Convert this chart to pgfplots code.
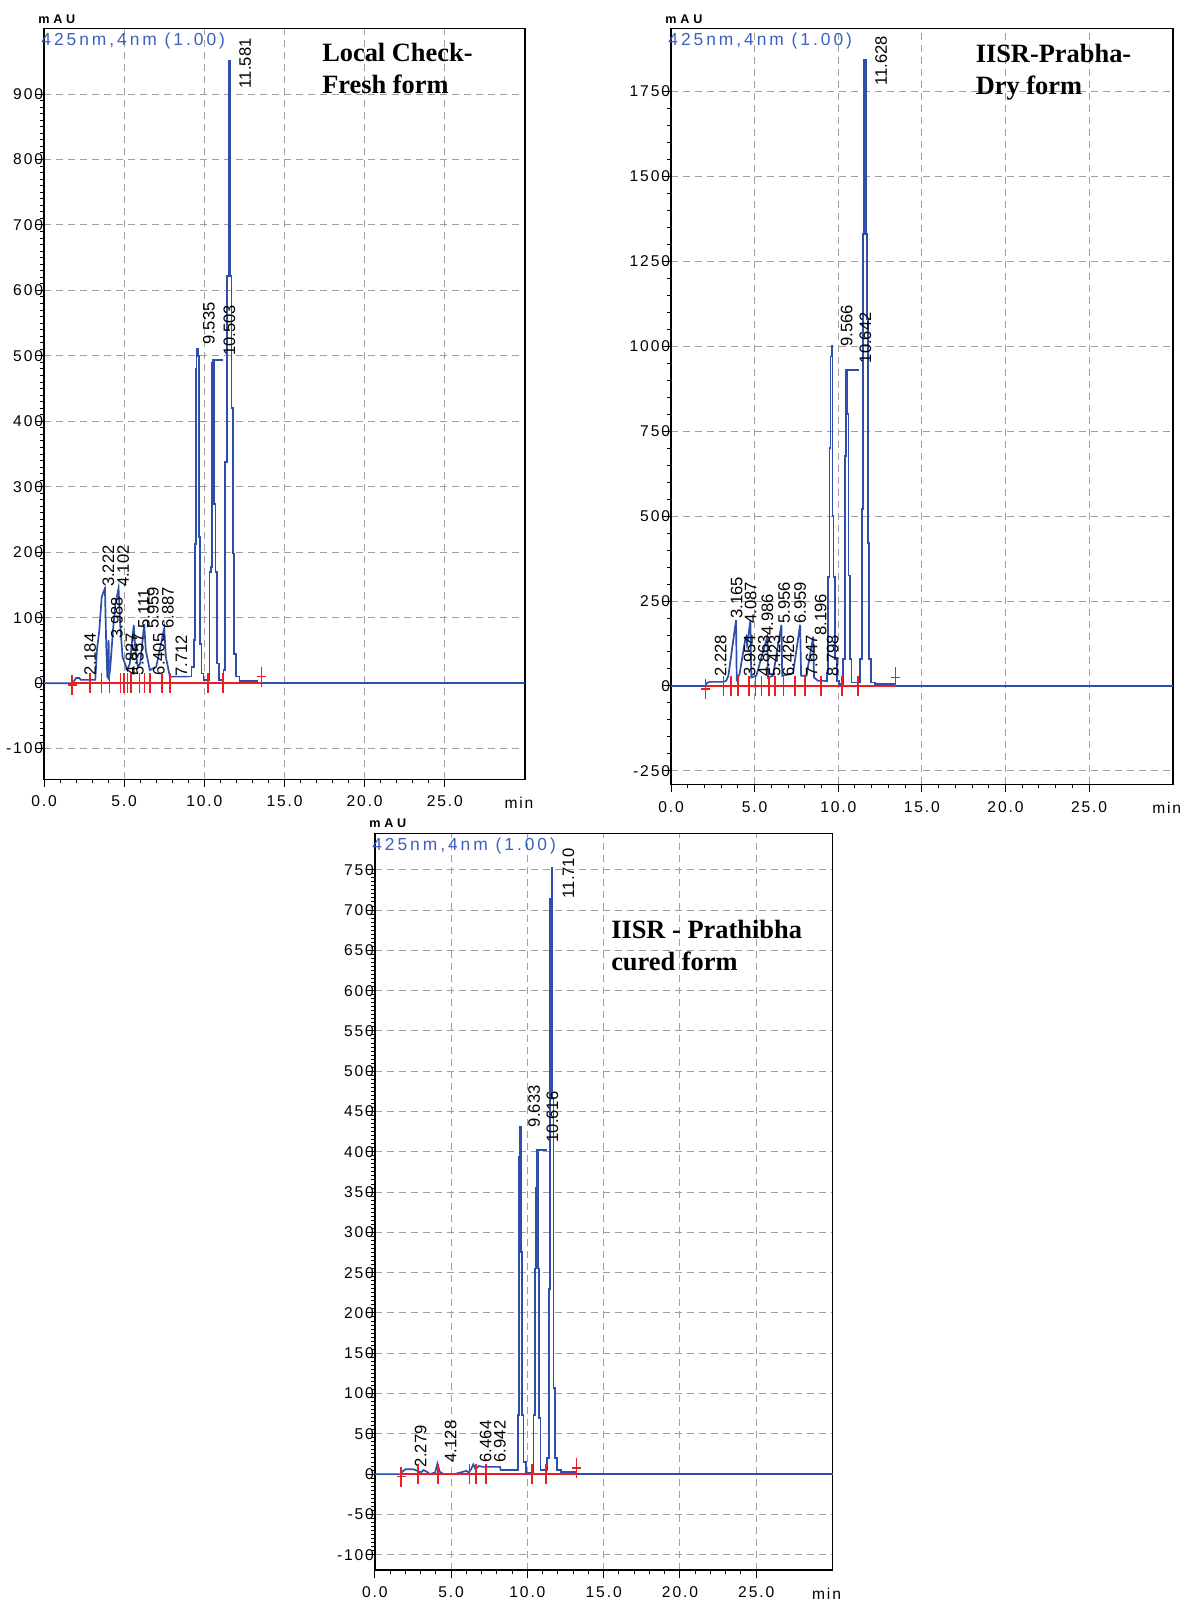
\documentclass[border=0pt]{standalone}
\usepackage{fontspec}
\setmainfont{Liberation Sans}
\newfontfamily\spsf[LetterSpace=12]{Liberation Sans}
\newfontfamily\legsf[LetterSpace=17]{Liberation Sans}
\newfontfamily\mausf[LetterSpace=30]{Liberation Sans}
\newfontfamily\serifb{Liberation Serif}
\usepackage{pgfplots}
\pgfplotsset{compat=1.18}

\definecolor{trace}{RGB}{45,78,172}
\definecolor{legblue}{RGB}{60,95,195}
\definecolor{intred}{RGB}{235,30,35}
\definecolor{gridgray}{RGB}{160,160,160}

\pgfplotsset{
  chrom/.style={
    scale only axis, anchor=south west, clip=false,
    xmin=0, xmax=30,
    xtick={0,5,...,25}, xticklabels={0.0,5.0,10.0,15.0,20.0,25.0},
    minor x tick num=4,
    tick pos=left, tick align=outside,
    major tick length=3.8pt, minor tick length=2pt,
    tick style={black, line width=0.5pt},
    axis line style={line width=0.8pt},
    grid=major,
    major grid style={gridgray, line width=0.5pt, dash pattern=on 3.5pt off 2.5pt},
    ticklabel style={font=\spsf\fontsize{7.8}{9}\selectfont},
    /pgf/number format/assume math mode=true,
    /pgf/number format/1000 sep={},
    yticklabel style={inner sep=0pt, xshift=3.5pt},
    xticklabel style={yshift=-1pt},
  },
  sig/.style={trace, line width=0.85pt},
  sigc/.style={trace, line width=0.85pt, const plot},
  redmk/.style={only marks, mark=+, intred, mark size=5pt,
    mark options={xscale=0.45, line width=0.85pt}},
  redln/.style={intred, line width=0.8pt},
}
\tikzset{
  pk/.style={rotate=90, anchor=west, inner sep=0.5pt, font=\fontsize{8.3}{9}\selectfont},
  ttl/.style={anchor=north west, inner sep=0pt, align=left,
    font=\serifb\bfseries\fontsize{13.2}{16}\selectfont},
}
\newcommand\extras{%
  \node[anchor=south west, inner sep=0pt, font=\mausf\bfseries\fontsize{6.3}{7}\selectfont]
    at ([xshift=-3pt,yshift=2.5pt]rel axis cs:0,1) {mAU};
  \node[anchor=north west, inner sep=0pt, text=legblue, font=\legsf\fontsize{8.7}{9}\selectfont]
    at ([xshift=-1.5pt,yshift=-2pt]rel axis cs:0,1) {425nm,4nm (1.00)};
  \node[anchor=north, inner sep=0pt, font=\spsf\fontsize{7.8}{9}\selectfont]
    at ([xshift=-3pt,yshift=-8.8pt]rel axis cs:1,0) {min};
}

\begin{document}
\begin{tikzpicture}
\useasboundingbox (0,0) rectangle (594pt,801pt);

% ---------- Local Check - Fresh form ----------
\begin{axis}[chrom, at={(22pt,411.3pt)}, width=240.5pt, height=375.4pt,
  ymin=-147, ymax=1000, ytick={-100,0,...,900}, minor y tick num=9]
\addplot[sig] coordinates {
 (0,0) (1.75,0) (1.9,4) (2.0,8) (2.2,8) (2.3,5) (3.2,5) (3.3,50) (3.45,81)
 (3.6,132) (3.8,145) (3.88,60) (3.95,10) (4.0,8) (4.03,66) (4.06,10) (4.12,20)
 (4.3,80) (4.45,120) (4.65,145) (4.75,90) (4.9,40) (5.2,20) (5.35,30) (5.6,89)
 (5.7,50) (5.85,25) (6.0,30) (6.25,90) (6.35,50) (6.6,20) (7.0,25) (7.5,84)
 (7.6,40) (7.85,10) (9.0,10)};
\addplot[sigc] coordinates {
 (9.0,10) (9.2,25) (9.35,66) (9.42,213) (9.48,480) (9.52,511) (9.6,500)
 (9.66,223) (9.72,60) (9.82,15) (9.95,5)
 (10.32,170) (10.42,178) (10.48,490) (10.56,494) (10.62,274) (10.7,170)
 (10.8,30) (10.92,5)
 (11.2,20) (11.3,338) (11.42,622) (11.5,934) (11.56,951) (11.62,622)
 (11.7,420) (11.78,198) (11.86,45) (11.98,10) (12.2,3) (13.3,0) (30,0)};
\addplot[sig] coordinates {(10.56,494) (11.17,494)};
\addplot[redln] coordinates {(1.76,0) (13.57,0)};
\addplot[redmk] coordinates {
 (1.76,-3) (2.88,0) (3.59,0) (4.08,0) (4.77,0) (4.98,0) (5.2,0) (5.41,0)
 (5.95,0) (6.27,0) (6.59,0) (7.34,0) (7.88,0) (10.24,0) (11.17,0) (13.57,10)};
\addplot[redln] coordinates {(4.08,0) (4.08,35)};
\node[pk] at (axis cs:2.88,10) {2.184};
\node[pk] at (axis cs:4.02,145) {3.222};
\node[pk] at (axis cs:4.94,145) {4.102};
\node[pk] at (axis cs:4.55,66) {3.988};
\node[pk] at (axis cs:5.45,10) {4.827};
\node[pk] at (axis cs:5.85,10) {5.357};
\node[pk] at (axis cs:6.23,81) {5.111};
\node[pk] at (axis cs:6.8,81) {5.959};
\node[pk] at (axis cs:7.17,10) {6.405};
\node[pk] at (axis cs:7.73,81) {6.887};
\node[pk] at (axis cs:8.57,8) {7.712};
\node[pk] at (axis cs:10.29,516) {9.535};
\node[pk] at (axis cs:11.57,498) {10.503};
\node[pk] at (axis cs:12.54,907) {11.581};
\node[ttl] at (axis cs:17.33,978) {Local Check-\\Fresh form};
\extras
\end{axis}

% ---------- IISR-Prabha - Dry form ----------
\begin{axis}[chrom, at={(335.5pt,408.75pt)}, width=250.85pt, height=377.95pt,
  ymin=-290, ymax=1935, ytick={-250,0,...,1750}, minor y tick num=4]
\addplot[sig] coordinates {
 (0,0) (2.05,0) (2.12,8) (2.3,12) (3.1,12) (3.3,15) (3.43,30) (3.89,194)
 (3.93,20) (4.1,35) (4.45,140) (4.5,145) (4.55,120) (4.75,194) (4.8,25)
 (5.1,30) (5.76,145) (5.8,25) (6.1,30) (6.6,180) (6.65,30) (7.3,38)
 (7.72,180) (7.78,30) (8.1,30) (8.5,145) (8.55,25) (8.8,15) (9.2,15)};
\addplot[sigc] coordinates {
 (9.2,15) (9.32,40) (9.4,320) (9.47,700) (9.53,970) (9.6,1000) (9.66,500)
 (9.72,320) (9.8,80) (9.92,15) (10.05,5)
 (10.3,80) (10.4,677) (10.47,931) (10.55,800) (10.62,325) (10.7,80) (10.8,10)
 (11.3,80) (11.4,520) (11.48,1330) (11.56,1843) (11.64,1330) (11.7,1080)
 (11.76,420) (11.84,80) (11.96,10) (12.2,5) (13.4,0) (30,0)};
\addplot[sig] coordinates {(10.47,931) (11.26,931)};
\addplot[redln] coordinates {(2.06,0) (13.43,0)};
\addplot[redmk] coordinates {
 (2.06,-8) (3.14,0) (3.57,0) (4.0,0) (4.66,0) (5.05,0) (5.41,0) (5.85,0)
 (6.22,0) (6.72,0) (7.43,0) (8.01,0) (8.95,0) (10.24,0) (11.2,0) (13.43,25)};
\node[pk] at (axis cs:2.97,23) {2.228};
\node[pk] at (axis cs:3.93,194) {3.165};
\node[pk] at (axis cs:4.77,180) {4.087};
\node[pk] at (axis cs:4.71,23) {3.954};
\node[pk] at (axis cs:5.76,145) {4.986};
\node[pk] at (axis cs:5.55,23) {4.863};
\node[pk] at (axis cs:6.2,23) {5.423};
\node[pk] at (axis cs:6.76,180) {5.956};
\node[pk] at (axis cs:7.72,180) {6.959};
\node[pk] at (axis cs:7.02,23) {6.426};
\node[pk] at (axis cs:8.41,23) {7.647};
\node[pk] at (axis cs:8.95,145) {8.196};
\node[pk] at (axis cs:9.67,23) {8.798};
\node[pk] at (axis cs:10.5,995) {9.566};
\node[pk] at (axis cs:11.63,946) {10.642};
\node[pk] at (axis cs:12.56,1763) {11.628};
\node[ttl] at (axis cs:18.2,1890) {IISR-Prabha-\\Dry form};
\extras
\end{axis}

% ---------- IISR - Prathibha cured form ----------
\begin{axis}[chrom, at={(187.45pt,16pt)}, width=228.8pt, height=368.25pt,
  ymin=-119, ymax=795, ytick={-100,-50,...,750}, minor y tick num=9]
\addplot[sig] coordinates {
 (0,0) (1.7,0) (1.8,3) (2.0,6) (2.5,6) (2.8,4) (3.0,2) (3.2,5) (3.4,3)
 (3.6,0) (3.95,2) (4.1,13) (4.25,3) (4.5,0) (5.2,0) (5.6,2) (6.0,4) (6.15,2)
 (6.3,6) (6.45,12) (6.6,6) (6.8,10) (7.1,9) (8.2,9) (8.25,5) (9.3,5)};
\addplot[sigc] coordinates {
 (9.3,5) (9.38,73) (9.45,394) (9.52,431) (9.6,276) (9.66,73) (9.75,15)
 (9.9,2) (10.4,73) (10.5,255) (10.57,355) (10.63,402) (10.68,255) (10.75,70)
 (10.85,5) (11.3,20) (11.4,230) (11.5,714) (11.57,752) (11.63,467)
 (11.7,107) (11.8,20) (11.95,5) (12.2,3) (13.2,0) (30,0)};
\addplot[sig] coordinates {(10.63,402) (11.26,402)};
\addplot[redln] coordinates {(1.72,0) (13.22,0)};
\addplot[redmk] coordinates {
 (1.72,-3) (2.81,0) (4.12,0) (6.21,0) (6.62,0) (7.3,0) (10.28,0) (11.22,0)
 (13.22,8)};
\node[pk] at (axis cs:3.0,7) {2.279};
\node[pk] at (axis cs:4.97,13) {4.128};
\node[pk] at (axis cs:7.26,13) {6.464};
\node[pk] at (axis cs:8.2,13) {6.942};
\node[pk] at (axis cs:10.44,429) {9.633};
\node[pk] at (axis cs:11.63,410) {10.616};
\node[pk] at (axis cs:12.68,713) {11.710};
\node[ttl] at (axis cs:15.47,688) {IISR - Prathibha\\cured form};
\extras
\end{axis}
\end{tikzpicture}
\end{document}
